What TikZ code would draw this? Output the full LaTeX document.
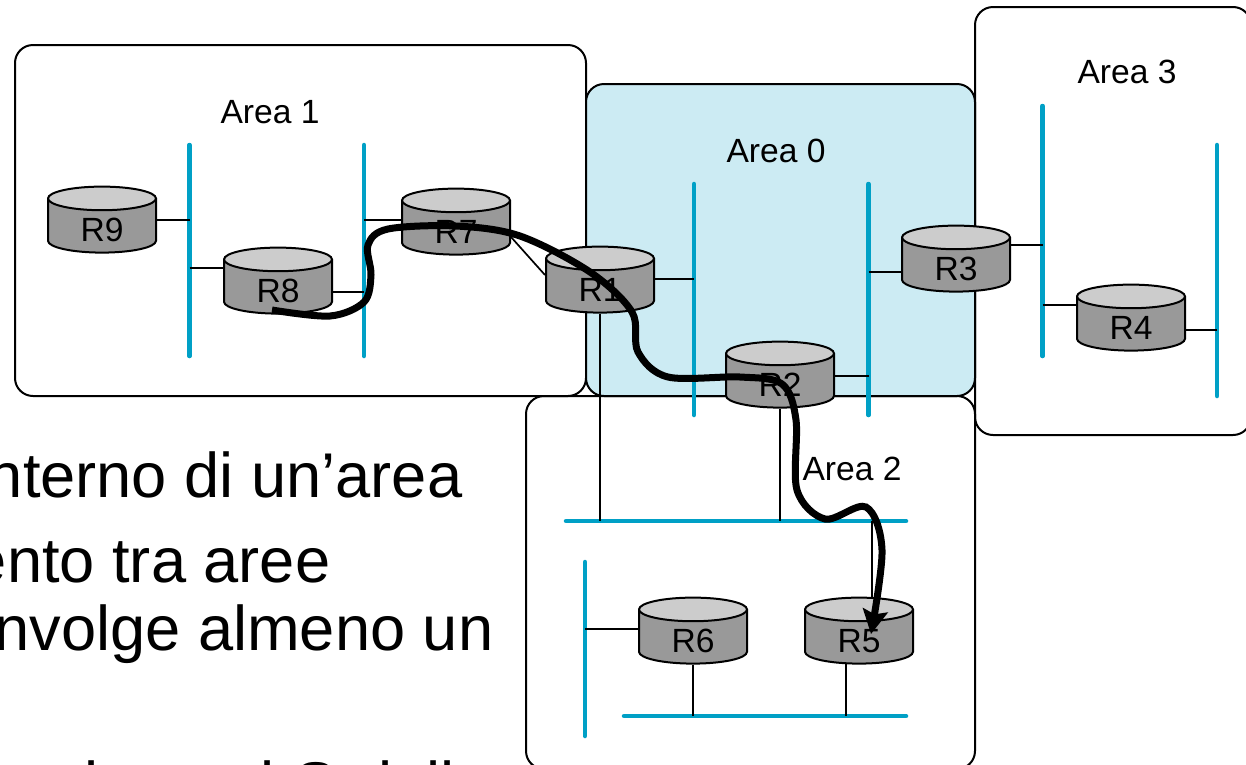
\documentclass[tikz,border=0pt]{standalone}
\usepackage{fontspec}
\setmainfont{Liberation Sans}
\usetikzlibrary{shapes.geometric,arrows.meta}
\definecolor{areablue}{RGB}{204,235,243}
\definecolor{lanblue}{RGB}{0,160,198}
\newcommand{\rname}[1]{\raisebox{-15.5pt}[0pt][0pt]{#1}}
\tikzset{
  area/.style={draw=black,line width=2pt,rounded corners=18pt},
  lan/.style={draw=lanblue,line width=4.5pt,line cap=round},
  link/.style={draw=black,line width=1.7pt},
  router/.style={cylinder,shape border rotate=90,draw=black,line width=2pt,aspect=0.55,
    cylinder uses custom fill,cylinder body fill=black!40,cylinder end fill=black!20,
    minimum width=108pt,minimum height=66pt,inner sep=0pt,font=\fontsize{33.6}{36}\selectfont},
  arealabel/.style={font=\fontsize{33.6}{36}\selectfont},
  bigtext/.style={anchor=base east,inner sep=0pt,font=\fontsize{63.2}{70}\selectfont},
  route/.style={draw=black,line width=7pt,-{Stealth[length=24pt,width=25pt,inset=4pt]}}
}
\begin{document}
\begin{tikzpicture}[x=1pt,y=-1pt]
    \useasboundingbox (0,0) rectangle (1246,764);
    % Areas
    \draw[area] (15,45) rectangle (586,396);
    \draw[area,fill=areablue] (586,84) rectangle (975,396);
    \draw[area] (975,7) rectangle (1251,435);
    \draw[area] (526,396) rectangle (975,769);
    \node[arealabel] (area1) at (270,112) {Area 1};
    \node[arealabel] (area0) at (776,151) {Area 0};
    \node[arealabel] (area3) at (1127,72) {Area 3};
    \node[arealabel] (area2) at (852,469) {Area 2};

    % LAN segments
    \draw[lan] (189.5,145) coordinate (lanA) -- (189.5,356);
    \draw[lan] (364,145) coordinate (lanB) -- (364,356);
    \draw[lan] (694,184) coordinate (lanC) -- (694,415);
    \draw[lan] (868.5,184) coordinate (lanD) -- (868.5,415);
    \draw[lan] (1042.5,106) coordinate (lanE) -- (1042.5,356);
    \draw[lan] (1217,145) coordinate (lanF) -- (1217,396);
    \draw[lan] (566,521) coordinate (lanG) -- (906,521);
    \draw[lan] (585,562) coordinate (lanH) -- (585,736);
    \draw[lan] (624,716) coordinate (lanI) -- (906,716);

    % Routers
    \node[router] (R9) at (102,226) {\rname{R9}};
    \node[router] (R8) at (278,287) {\rname{R8}};
    \node[router] (R7) at (456,228) {\rname{R7}};
    \node[router] (R1) at (600,286) {\rname{R1}};
    \node[router] (R2) at (780,381) {\rname{R2}};
    \node[router] (R3) at (956,265) {\rname{R3}};
    \node[router] (R4) at (1131,324) {\rname{R4}};
    \node[router] (R6) at (693,637) {\rname{R6}};
    \node[router] (R5) at (859,637) {\rname{R5}};

    % Links
    \draw[link] (R9.east |- 0,220) -- (lanA |- 0,220);
    \draw[link] (lanA |- 0,268) -- (R8.west |- 0,268);
    \draw[link] (R8.east |- 0,292) -- (lanB |- 0,292);
    \draw[link] (lanB |- 0,220) -- (R7.west |- 0,220);
    \draw[link] (R7.east |- 0,237) -- (R1.west |- 0,275);
    \draw[link] (R1.east |- 0,279) -- (lanC |- 0,279);
    \draw[link] (R1.south) -- (R1.south |- lanG);
    \draw[link] (R2.south) -- (R2.south |- lanG);
    \draw[link] (R2.east |- 0,376) -- (lanD |- 0,376);
    \draw[link] (lanD |- 0,272) -- (R3.west |- 0,272);
    \draw[link] (R3.east |- 0,245) -- (lanE |- 0,245);
    \draw[link] (lanE |- 0,305) -- (R4.west |- 0,305);
    \draw[link] (R4.east |- 0,330) -- (lanF |- 0,330);
    \draw[link] (872,0 |- lanG) -- (872,597);
    \draw[link] (lanH |- 0,629) -- (R6.west |- 0,629);
    \draw[link] (R6.south) -- (R6.south |- lanI);
    \draw[link] (846,663) -- (846,0 |- lanI);

    % Route from R8 to R5
    \draw[route] plot[smooth,tension=0.55] coordinates {(272,310) (330,316) (364,302) (371,275) (368,245)
      (388,229) (456,226) (520,236) (590,272) (632,312) (638,352) (668,377) (740,377) (782,384) (796,420)
      (797,490) (825,519) (866,507) (882,550) (871,634)};

    % Text on the slide behind
    \node[bigtext] (line1) at (462.5,497) {nterno di un’area};
    \node[bigtext] (line2) at (330.5,582) {ento tra aree};
    \node[bigtext] (line3) at (493.5,650) {nvolge almeno un};
    \node[bigtext] (line4a) at (99,806) {l};
    \node[bigtext] (line4b) at (275,806) {l};
    \node[bigtext] (line4c) at (337,806) {S};
    \node[bigtext] (line4d) at (393,806) {l};
    \node[bigtext] (line4e) at (455,806) {ll};
\end{tikzpicture}
\end{document}
